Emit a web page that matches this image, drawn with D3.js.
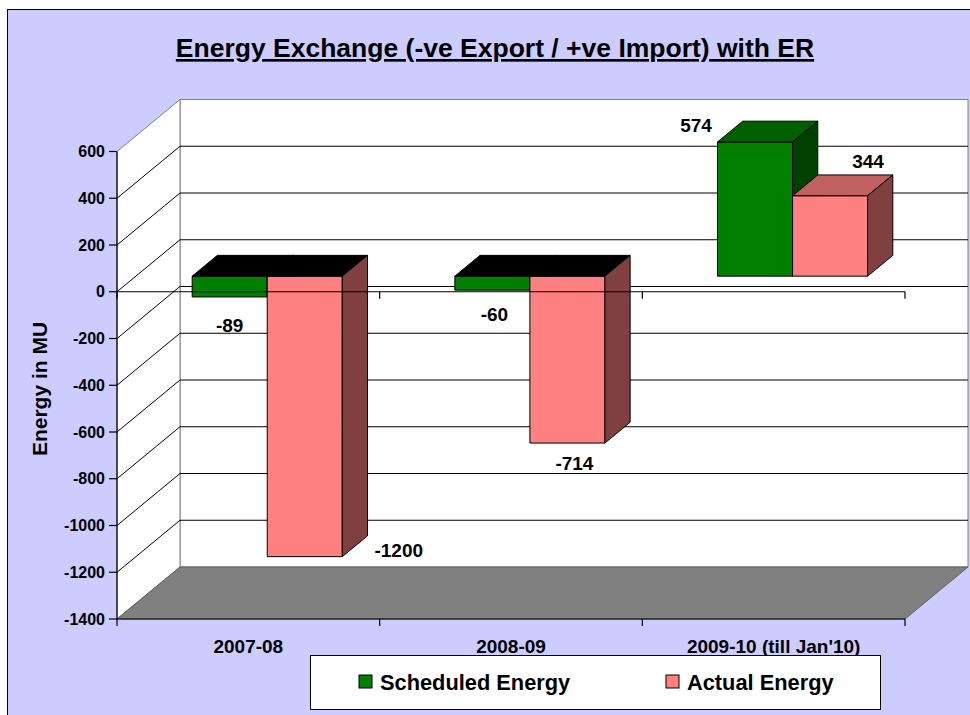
<!DOCTYPE html>
<html>
<head>
<meta charset="utf-8">
<script src="https://cdn.jsdelivr.net/npm/d3@7"></script>
<style>
  body { margin: 0; background: #fff; }
  text { font-family: Arial, "Liberation Sans", sans-serif; font-weight: bold; fill: #000; }
</style>
</head>
<body>
<div id="chart"></div>
<script>
// Energy exchange with ER - 3D style clustered columns

const categories = ["2007-08", "2008-09", "2009-10 (till Jan'10)"];
const scheduled = [-89, -60, 574];
const actual = [-1200, -714, 344];
const seriesNames = ["Scheduled Energy", "Actual Energy"];
const yTicks = [-1400, -1200, -1000, -800, -600, -400, -200, 0, 200, 400, 600];

const width = 970;
const height = 715;

// depth of the 3D box (back wall offset)
const DX = 63, DY = -52;
const zFront = 0.3, zBack = 0.7;

const faces = [
    { front: "#008000", top: "#006000", side: "#004000" },
    { front: "#FF8080", top: "#C06060", side: "#804040" }
];

// label nudges from the bar end (front face centre), per series / category
const labelNudge = [
    [[0, 35], [2, 31], [-59, -10]],
    [[94, 0], [7, 27], [38, -28]]
];

const svg = d3.select("#chart")
    .append("svg")
    .attr("width", width)
    .attr("height", height);

// chart area
svg.append("rect")
    .attr("x", 7.5).attr("y", 9.5)
    .attr("width", width + 10).attr("height", height + 10)
    .attr("fill", "#CCCCFF")
    .attr("stroke", "#000");

const x = d3.scaleBand()
    .domain(categories)
    .range([117, 905]);

const xSub = d3.scaleBand()
    .domain(seriesNames)
    .range([0, x.bandwidth()])
    .paddingOuter(0.75);

const y = d3.scaleLinear()
    .domain([-1400, 600])
    .range([619, 151.5]);

const P = (px, v, z) => [px + z * DX, y(v) + z * DY];
const poly = pts => pts.map(p => p.join(",")).join(" ");

const x0 = x.range()[0], x1 = x.range()[1];
const [ymin, ymax] = y.domain();

// back wall
svg.append("polygon")
    .attr("points", poly([P(x0, ymax, 1), P(x1, ymax, 1), P(x1, ymin, 1), P(x0, ymin, 1)]))
    .attr("fill", "#fff")
    .attr("stroke", "#808080");

// side wall
svg.append("polygon")
    .attr("points", poly([P(x0, ymax, 0), P(x0, ymax, 1), P(x0, ymin, 1), P(x0, ymin, 0)]))
    .attr("fill", "#fff")
    .attr("stroke", "#808080");

// gridlines
const grid = svg.append("g").attr("stroke", "#000").attr("stroke-width", 1);
yTicks.filter(v => v > ymin && v < ymax).forEach(v => {
    grid.append("polyline")
        .attr("fill", "none")
        .attr("points", poly([P(x0, v, 0), P(x0, v, 1), P(x1, v, 1)]));
});

// floor
svg.append("polygon")
    .attr("points", poly([P(x0, ymin, 0), P(x0, ymin, 1), P(x1, ymin, 1), P(x1, ymin, 0)]))
    .attr("fill", "#808080")
    .attr("stroke", "#606060");

// bars
const bars = svg.append("g").attr("stroke", "#000").attr("stroke-width", 1);
categories.forEach((c, i) => {
    [scheduled, actual].forEach((vals, s) => {
        const v = vals[i];
        const bx0 = x(c) + xSub(seriesNames[s]);
        const bx1 = bx0 + xSub.bandwidth();
        const col = faces[s];
        // front
        bars.append("polygon")
            .attr("points", poly([P(bx0, 0, zFront), P(bx1, 0, zFront), P(bx1, v, zFront), P(bx0, v, zFront)]))
            .attr("fill", col.front);
        // top (end at zero for negative bars)
        const tv = Math.max(v, 0);
        bars.append("polygon")
            .attr("points", poly([P(bx0, tv, zFront), P(bx1, tv, zFront), P(bx1, tv, zBack), P(bx0, tv, zBack)]))
            .attr("fill", v < 0 ? "#000" : col.top);
        // right side
        bars.append("polygon")
            .attr("points", poly([P(bx1, 0, zFront), P(bx1, v, zFront), P(bx1, v, zBack), P(bx1, 0, zBack)]))
            .attr("fill", col.side);
    });
});

// axes lines
const axes = svg.append("g").attr("stroke", "#000").attr("stroke-width", 1.2);
axes.append("line")
    .attr("x1", x0).attr("x2", x0)
    .attr("y1", y(ymax)).attr("y2", y(ymin));
[0, ymin].forEach(v => {
    axes.append("line")
        .attr("x1", x0).attr("x2", x1)
        .attr("y1", y(v)).attr("y2", y(v));
    const bounds = categories.map(c => x(c)).concat([x1]);
    bounds.forEach(b => {
        axes.append("line")
            .attr("x1", b).attr("x2", b)
            .attr("y1", y(v)).attr("y2", y(v) + 7);
    });
});
yTicks.forEach(v => {
    axes.append("line")
        .attr("x1", x0 - 8).attr("x2", x0)
        .attr("y1", y(v)).attr("y2", y(v));
});

// y tick labels
svg.append("g")
    .selectAll("text")
    .data(yTicks)
    .enter()
    .append("text")
    .attr("x", 105)
    .attr("y", d => y(d) + 5.5)
    .attr("text-anchor", "end")
    .style("font-size", "16px")
    .text(d => d);

// category labels
svg.append("g")
    .selectAll("text")
    .data(categories)
    .enter()
    .append("text")
    .attr("x", d => x(d) + x.bandwidth() / 2)
    .attr("y", 653)
    .attr("text-anchor", "middle")
    .style("font-size", "19px")
    .text(d => d);

// data labels
[scheduled, actual].forEach((vals, s) => {
    vals.forEach((v, i) => {
        const bx0 = x(categories[i]) + xSub(seriesNames[s]);
        const [cx, cy] = P(bx0 + xSub.bandwidth() / 2, v, zFront);
        svg.append("text")
            .attr("x", cx + labelNudge[s][i][0])
            .attr("y", cy + labelNudge[s][i][1])
            .attr("text-anchor", "middle")
            .style("font-size", "19px")
            .text(v);
    });
});

// title
svg.append("text")
    .attr("x", 495)
    .attr("y", 57)
    .attr("text-anchor", "middle")
    .style("font-size", "26.5px")
    .style("text-decoration", "underline")
    .text("Energy Exchange (-ve Export / +ve Import) with ER");

// y axis title
svg.append("text")
    .attr("transform", "translate(47,389) rotate(-90)")
    .attr("text-anchor", "middle")
    .style("font-size", "21px")
    .text("Energy in MU");

// legend
const legend = svg.append("g");
legend.append("rect")
    .attr("x", 310.5).attr("y", 655.5)
    .attr("width", 570).attr("height", 54)
    .attr("fill", "#fff")
    .attr("stroke", "#000");

const legendX = [359, 666];
const item = legend.selectAll(".item")
    .data(seriesNames)
    .enter()
    .append("g")
    .attr("class", "item")
    .attr("transform", (d, i) => `translate(${legendX[i]},675)`);

item.append("rect")
    .attr("width", 13).attr("height", 13)
    .attr("fill", (d, i) => faces[i].front)
    .attr("stroke", "#000");

item.append("text")
    .attr("x", 21)
    .attr("y", 15)
    .style("font-size", "21.8px")
    .text(d => d);
</script>
</body>
</html>
